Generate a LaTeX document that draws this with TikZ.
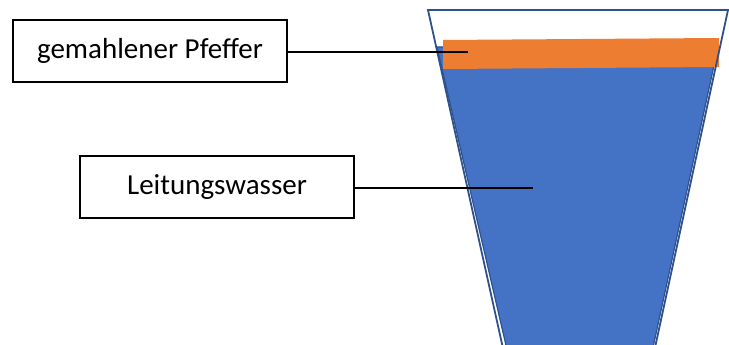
\documentclass[tikz,border=0pt]{standalone}
\usepackage{fontspec}
\setmainfont{Carlito}
\definecolor{waterblue}{HTML}{4472C4}
\definecolor{rimblue}{HTML}{2F528F}
\definecolor{pepper}{HTML}{ED7D31}
\tikzset{label box/.style={draw=black, line width=2pt, fill=white, minimum width=274pt, minimum height=62pt, inner sep=0pt, font=\fontsize{29}{34}\selectfont},
pointer/.style={draw=black, line width=2pt}}
\begin{document}
\begin{tikzpicture}
[x=1pt, y=-1pt]
\useasboundingbox (0,0) rectangle (729,345);
\clip (0,0) rectangle (729,345);

\fill [waterblue, draw=rimblue, line width=1.2pt] (437,47) -- (718,47) -- (646,380) -- (514,380) -- cycle;
\fill [pepper] (443,40) -- (719,38) -- (719,67) -- (443,69) -- cycle;
\draw [rimblue, line width=1.8pt] (428,10) -- (728,10) -- (648,380) -- (510,380) -- cycle;

\node [label box] (pfeffer) at (150,51) {gemahlener Pfeffer};
\node [label box] (wasser) at (217,187) {Leitungswasser};

\coordinate (pfefferend) at (468,52);
\coordinate (wasserend) at (533,188);

\draw [pointer] (pfeffer.east |- pfefferend) -- (pfefferend);
\draw [pointer] (wasser.east |- wasserend) -- (wasserend);
\end{tikzpicture}
\end{document}
